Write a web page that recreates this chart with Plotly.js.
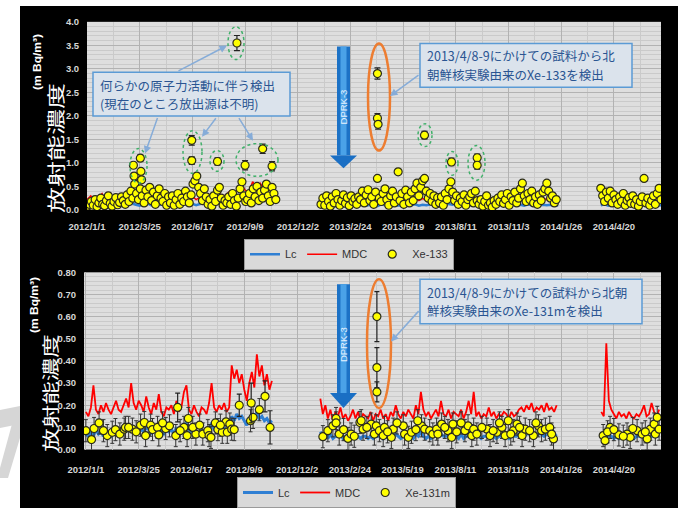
<!DOCTYPE html>
<html><head><meta charset="utf-8">
<script src="https://cdn.plot.ly/plotly-3.0.1.min.js"></script>
<style>
html,body{margin:0;padding:0;background:#fff;width:678px;height:508px;overflow:hidden}
#wm{position:absolute;left:0;top:0}
#chart{position:absolute;left:20px;top:6px;width:658px;height:502px}
.ytitle{position:absolute;font-family:'Noto Sans CJK JP',sans-serif;color:#fff;white-space:nowrap;line-height:1;
 transform-origin:center center;z-index:5}
.yunit{position:absolute;font-family:'Liberation Sans',Arial,sans-serif;font-weight:bold;color:#fff;white-space:nowrap;line-height:1;
 transform-origin:center center;z-index:5;font-size:12px}
</style></head><body>
<svg id="wm" width="20" height="508"><polygon points="0,410 20,406 20,424 0,428" fill="#d6d6d6"/><polygon points="12,424 20,424 20,438 8,478 0,478 0,468" fill="#d6d6d6"/></svg>
<div id="chart"></div>
<div class="ytitle" id="yt1" style="left:56px;top:148px;font-size:26px;transform:translate(-50%,-50%) rotate(-90deg) scaleY(0.68)">放射能濃度</div>
<div class="ytitle" id="yt2" style="left:50px;top:393px;font-size:23.5px;transform:translate(-50%,-50%) rotate(-90deg) scaleY(0.72)">放射能濃度</div>
<div class="yunit" id="yu1" style="left:37px;top:62px;transform:translate(-50%,-50%) rotate(-90deg) scaleY(0.9)">(m Bq/m³)</div>
<div class="yunit" id="yu2" style="left:34px;top:305px;transform:translate(-50%,-50%) rotate(-90deg) scaleY(0.9)">(m Bq/m³)</div>
<script>
// ---------- tick labels ----------
const tickLabels = ['2012/1/1','2012/3/25','2012/6/17','2012/9/9','2012/12/2','2013/2/24','2013/5/19','2013/8/11','2013/11/3','2014/1/26','2014/4/20'];

// ---------- TOP PANEL (Xe-133), day offsets from 2012-01-01 ----------
// sampled every 3 days
const xe133_p1_start = 1, xe133_p2_start = 373, xe133_p3_start = 819, xe133_step = 3;
const xe133_p1 = [0.08,0.12,0.18,0.10,0.22,0.07,0.15,0.25,0.12,0.09,0.20,0.30,0.14,0.08,0.18,0.26,0.11,0.16,0.28,
 0.20,0.12,0.32,0.18,0.40,0.25,0.55,0.35,0.22,0.45,0.30,0.15,0.42,0.28,0.48,0.20,0.38,0.12,0.30,0.45,0.25,0.18,0.35,0.10,0.28,
 0.15,0.30,0.10,0.22,0.35,0.12,0.25,0.18,0.40,0.28,0.15,0.32,0.55,0.62,0.72,0.48,0.35,0.20,0.45,0.28,
 0.12,0.22,0.08,0.30,0.18,0.42,0.48,0.25,0.10,0.20,0.15,0.28,0.12,0.35,0.20,0.08,0.25,0.45,0.60,0.30,
 0.18,0.22,0.35,0.15,0.45,0.28,0.50,0.20,0.38,0.25,0.42,0.55,0.30,0.18,0.48,0.35,0.22];
const xe133_p2 = [0.12,0.25,0.10,0.30,0.18,0.08,0.28,0.15,0.35,0.22,0.10,0.20,0.32,0.14,0.26,0.09,0.30,0.18,0.24,0.12,0.28,
 0.22,0.40,0.15,0.32,0.43,0.20,0.28,0.12,0.38,0.67,0.25,0.18,0.35,0.45,0.22,0.10,0.30,0.40,0.15,0.28,0.81,
 0.20,0.35,0.12,0.42,0.28,0.15,0.38,0.20,0.45,0.57,0.30,0.48,0.62,0.67,0.40,0.25,0.35,0.18,0.30,0.12,0.26,
 0.15,0.28,0.10,0.35,0.22,0.45,0.60,0.38,0.20,0.30,0.12,0.25,0.18,0.32,0.10,0.22,0.28,0.35,0.15,0.40,0.20,
 0.12,0.22,0.08,0.18,0.30,0.10,0.15,0.06,0.20,0.12,0.25,0.18,0.32,0.14,0.22,0.35,0.10,0.28,0.20,0.38,0.15,
 0.25,0.45,0.57,0.30,0.18,0.35,0.22,0.40,0.15,0.28,0.12,0.32,0.20,0.38,0.45,0.57,0.40,0.25,0.30,0.15,0.22];
const xe133_p3 = [0.46,0.30,0.18,0.38,0.25,0.40,0.15,0.32,0.22,0.12,0.28,0.18,0.35,0.10,0.20,0.26,0.14,0.30,0.12,0.22,0.08,0.18,0.28,0.67,0.15,0.25,0.10,0.20,0.30,0.12,0.35,0.46,0.22];
const xe133_out_days = [74,75,85,86,87,167,167,208,239,252,280,295,463,463,464,538,581,622,622];
const xe133_out_vals = [0.95,0.72,1.10,0.82,0.64,1.48,1.05,1.03,3.55,0.95,1.30,0.93,2.90,1.95,1.82,1.59,1.02,1.11,0.95];
const xe133_out_err  = [0.06,0.06,0.07,0.06,0.05,0.10,0.08,0.08,0.16,0.10,0.10,0.10,0.12,0.10,0.10,0.08,0.08,0.08,0.08];
// MDC / Lc for Xe-133, every 6 days
const line133_step = 6, line133_p1_start = 0, line133_p2_start = 373, line133_p3_start = 819;
const mdc133_p1 = [0.22,0.30,0.18,0.25,0.35,0.20,0.28,0.24,0.32,0.20, 0.26,0.22,0.30,0.25,0.20,0.28,0.33,0.22,0.27,0.24,
 0.25,0.30,0.22,0.28,0.20,0.26,0.35,0.24,0.29,0.22, 0.28,0.32,0.25,0.35,0.30,0.38,0.28,0.33,0.40,0.30,
 0.45,0.55,0.42,0.38,0.60,0.50,0.57,0.45,0.52,0.40,0.48];
const lc133_p1 = [0.10,0.14,0.08,0.12,0.16,0.09,0.13,0.11,0.15,0.09, 0.12,0.10,0.14,0.11,0.09,0.13,0.15,0.10,0.12,0.11,
 0.11,0.14,0.10,0.13,0.09,0.12,0.16,0.11,0.13,0.10, 0.13,0.15,0.12,0.16,0.14,0.17,0.13,0.15,0.18,0.14,
 0.20,0.25,0.19,0.17,0.27,0.22,0.26,0.20,0.24,0.18,0.22];
const mdc133_p2 = [0.25,0.20,0.28,0.22,0.18,0.24,0.30,0.21,0.26,0.19, 0.23,0.27,0.20,0.25,0.22,0.18,0.26,0.21,0.24,0.28,
 0.20,0.23,0.19,0.25,0.22,0.27,0.20,0.24,0.21,0.26, 0.29,0.22,0.25,0.32,0.27,0.24,0.30,0.26,0.23,0.28,
 0.21,0.25,0.19,0.24,0.22,0.27,0.20,0.23,0.26,0.21, 0.25,0.28,0.22,0.24,0.20,0.26,0.23,0.27,0.21,0.25,
 0.22,0.24,0.20,0.23];
const lc133_p2 = [0.11,0.09,0.13,0.10,0.08,0.11,0.14,0.10,0.12,0.09, 0.10,0.12,0.09,0.11,0.10,0.08,0.12,0.10,0.11,0.13,
 0.09,0.10,0.09,0.11,0.10,0.12,0.09,0.11,0.10,0.12, 0.13,0.10,0.11,0.14,0.12,0.11,0.13,0.12,0.10,0.12,
 0.10,0.11,0.09,0.11,0.10,0.12,0.09,0.10,0.12,0.10, 0.11,0.13,0.10,0.11,0.09,0.12,0.10,0.12,0.10,0.11,
 0.10,0.11,0.09,0.10];
const mdc133_p3 = [0.22,0.26,0.20,0.24,0.19,0.23,0.21,0.25,0.18,0.22,0.20,0.24,0.19,0.23,0.21,0.20,0.22];
const lc133_p3  = [0.10,0.12,0.09,0.11,0.09,0.10,0.10,0.11,0.08,0.10,0.09,0.11,0.09,0.10,0.10,0.09,0.10];

// ---------- BOTTOM PANEL (Xe-131m) ----------
const line131_step = 4, line131_p1_start = 0, line131_p2_start = 373, line131_p3_start = 820;
const mdc131_p1 = [0.17,0.15,0.19,0.29,0.18,0.16,0.20,0.17,0.21,0.18, 0.16,0.19,0.22,0.18,0.17,0.20,0.23,0.19,0.30,0.21,
 0.18,0.22,0.20,0.17,0.24,0.19,0.16,0.21,0.18,0.25, 0.17,0.15,0.19,0.18,0.20,0.16,0.22,0.17,0.19,0.26,
 0.29,0.18,0.16,0.20,0.17,0.15,0.19,0.18,0.16,0.21, 0.30,0.19,0.17,0.20,0.18,0.21,0.17,0.19,0.38,0.32,
 0.36,0.30,0.34,0.27,0.22,0.30,0.35,0.28,0.43,0.33, 0.38,0.29,0.34,0.27,0.31];
const lc131_p1 = [0.07,0.06,0.08,0.06,0.09,0.07,0.08,0.06,0.09,0.07, 0.06,0.08,0.09,0.07,0.08,0.09,0.10,0.08,0.11,0.09,
 0.08,0.10,0.09,0.08,0.10,0.09,0.07,0.09,0.08,0.10, 0.08,0.07,0.09,0.08,0.09,0.07,0.10,0.08,0.09,0.11,
 0.12,0.09,0.08,0.09,0.08,0.07,0.09,0.08,0.07,0.09, 0.12,0.09,0.08,0.09,0.08,0.10,0.08,0.09,0.15,0.13,
 0.16,0.14,0.15,0.13,0.11,0.14,0.16,0.13,0.17,0.14, 0.15,0.13,0.14,0.12,0.13];
const mdc131_p2 = [0.23,0.16,0.20,0.14,0.18,0.13,0.17,0.15,0.19,0.14, 0.16,0.13,0.15,0.18,0.14,0.17,0.13,0.16,0.15,0.14,
 0.17,0.13,0.16,0.15,0.18,0.14,0.16,0.13,0.17,0.15, 0.20,0.16,0.14,0.17,0.15,0.18,0.16,0.14,0.20,0.16,
 0.26,0.18,0.15,0.17,0.14,0.16,0.18,0.15,0.22,0.16, 0.15,0.18,0.14,0.17,0.16,0.15,0.18,0.14,0.17,0.22,
 0.16,0.26,0.15,0.17,0.14,0.16,0.15,0.19,0.15,0.17, 0.14,0.16,0.15,0.17,0.16,0.14,0.17,0.15,0.16,0.18,
 0.19,0.17,0.20,0.18,0.21,0.17,0.19,0.18,0.20,0.17, 0.21,0.18,0.19,0.17,0.20];
const lc131_p2 = [0.08,0.06,0.07,0.05,0.07,0.05,0.06,0.06,0.07,0.05, 0.06,0.05,0.06,0.07,0.05,0.06,0.05,0.06,0.06,0.05,
 0.06,0.05,0.06,0.06,0.07,0.05,0.06,0.05,0.06,0.06, 0.07,0.06,0.05,0.06,0.06,0.07,0.06,0.05,0.07,0.06,
 0.08,0.06,0.05,0.06,0.05,0.06,0.07,0.06,0.07,0.06, 0.06,0.07,0.05,0.06,0.06,0.05,0.07,0.05,0.06,0.08,
 0.06,0.08,0.06,0.06,0.05,0.06,0.06,0.07,0.06,0.06, 0.05,0.06,0.06,0.07,0.06,0.05,0.06,0.06,0.06,0.07,
 0.07,0.06,0.07,0.07,0.08,0.06,0.07,0.07,0.07,0.06, 0.07,0.07,0.07,0.06,0.07];
const mdc131_p3 = [0.17,0.15,0.48,0.22,0.18,0.16,0.14,0.17,0.15,0.16,0.14,0.17,0.15,0.14,0.16,0.15,0.17,0.20,0.15,0.16,0.21,0.17,0.15,0.18];
const lc131_p3  = [0.06,0.05,0.07,0.06,0.06,0.05,0.06,0.05,0.06,0.06,0.05,0.06,0.06,0.05,0.06,0.06,0.07,0.06,0.06,0.05,0.06,0.07,0.06,0.06];

const xe131_days = [0,9,13,21,34,42,47,54,61,63,74,87,93,95,103,106,114,116,127,133,143,156,161,163,175,186,194,196,199,206,210,217,223,225,229,232,262,266,276,
 28,68,80,122,150,170,181,214,236,
 377,385,393,398,398,403,417,422,436,438,441,454,459,462,467,473,475,486,489,505,507,513,518,534,539,547,552,558,566,576,582,584,603,608,614,617,638,643,654,662,667,672,680,686,694,699,712,720,725,731,744,
 410,427,447,480,495,525,528,560,571,590,597,622,630,648,658,676,690,706,716,738,741,
 823,826,834,848,861,866,877,885,893,898,904,906,909,912,830,840,855,870,890];
const xe131_vals = [0.085,0.045,0.095,0.12,0.063,0.078,0.09,0.07,0.092,0.10,0.092,0.11,0.122,0.063,0.11,0.09,0.10,0.066,0.095,0.107,0.063,0.10,0.063,0.14,0.07,0.07,0.085,0.063,0.055,0.12,0.09,0.078,0.125,0.078,0.115,0.092,0.13,0.145,0.18,
 0.085,0.10,0.08,0.12,0.085,0.10,0.11,0.11,0.09,
 0.058,0.085,0.107,0.14,0.12,0.07,0.05,0.07,0.122,0.13,0.092,0.115,0.07,0.107,0.085,0.063,0.10,0.055,0.092,0.107,0.07,0.055,0.078,0.107,0.092,0.085,0.07,0.092,0.115,0.085,0.055,0.115,0.085,0.107,0.063,0.092,0.092,0.063,0.078,0.10,0.063,0.13,0.085,0.115,0.063,0.092,0.063,0.107,0.085,0.092,0.048,
 0.09,0.06,0.10,0.08,0.12,0.09,0.13,0.07,0.10,0.08,0.12,0.07,0.10,0.085,0.12,0.07,0.10,0.085,0.12,0.10,0.07,
 0.063,0.04,0.10,0.066,0.07,0.055,0.085,0.07,0.048,0.092,0.115,0.07,0.145,0.092,0.08,0.09,0.06,0.095,0.08];
const xe131_out_days = [146,244,263,285,293,463,463,463];
const xe131_out_vals = [0.19,0.20,0.21,0.24,0.10,0.60,0.37,0.26];
const xe131_out_err  = [0.065,0.05,0.09,0.07,0.075,0.113,0.09,0.045];

// ---------- helpers ----------
const DAY = 86400000, T0 = Date.UTC(2012,0,1);
const dstr = d => new Date(T0 + d*DAY).toISOString().slice(0,10);
const lab2date = s => { const p = s.split('/'); return p[0]+'-'+p[1].padStart(2,'0')+'-'+p[2].padStart(2,'0'); };
function segs(list, step){ const x=[], y=[];
  list.forEach((s,i)=>{ if(i>0){ x.push(dstr(s[0]-1)); y.push(null);} s[1].forEach((v,j)=>{ x.push(dstr(s[0]+j*step)); y.push(v); }); });
  return {x,y}; }
const tickVals = tickLabels.map(lab2date);

// page pixel -> paper
const W=658,H=502,OX=20,OY=6;
const px = X => (X-OX)/W, py = Y => (H-(Y-OY))/H;

const cloud133 = segs([[xe133_p1_start,xe133_p1],[xe133_p2_start,xe133_p2],[xe133_p3_start,xe133_p3]], xe133_step);
const m133 = segs([[line133_p1_start,mdc133_p1],[line133_p2_start,mdc133_p2],[line133_p3_start,mdc133_p3]], line133_step);
const l133 = segs([[line133_p1_start,lc133_p1],[line133_p2_start,lc133_p2],[line133_p3_start,lc133_p3]], line133_step);
const m131 = segs([[line131_p1_start,mdc131_p1],[line131_p2_start,mdc131_p2],[line131_p3_start,mdc131_p3]], line131_step);
const l131 = segs([[line131_p1_start,lc131_p1],[line131_p2_start,lc131_p2],[line131_p3_start,lc131_p3]], line131_step);

const MK = {color:'#ffff00', size:8, line:{color:'#2a2a1e', width:1.2}};
const BLUE='#2f7fd3', RED='#ff0000';
const traces = [
 {x:l133.x, y:l133.y, type:'scatter', mode:'lines', name:'Lc', line:{color:BLUE,width:2.5}, xaxis:'x', yaxis:'y', legend:'legend'},
 {x:m133.x, y:m133.y, type:'scatter', mode:'lines', name:'MDC', line:{color:RED,width:1.5}, xaxis:'x', yaxis:'y', legend:'legend'},
 {x:cloud133.x, y:cloud133.y, type:'scatter', mode:'markers', name:'Xe-133', marker:MK,
  error_y:{type:'constant', value:0.04, color:'#222', thickness:1, width:2}, xaxis:'x', yaxis:'y', legend:'legend'},
 {x:xe133_out_days.map(dstr), y:xe133_out_vals, type:'scatter', mode:'markers', name:'Xe-133', showlegend:false, marker:MK,
  error_y:{type:'data', array:xe133_out_err, color:'#222', thickness:1.2, width:3}, xaxis:'x', yaxis:'y'},
 {x:l131.x, y:l131.y, type:'scatter', mode:'lines', name:'Lc', line:{color:BLUE,width:3}, xaxis:'x2', yaxis:'y2', legend:'legend2'},
 {x:m131.x, y:m131.y, type:'scatter', mode:'lines', name:'MDC', line:{color:RED,width:1.8}, xaxis:'x2', yaxis:'y2', legend:'legend2'},
 {x:xe131_days.map(dstr), y:xe131_vals, type:'scatter', mode:'markers', name:'Xe-131m', marker:MK,
  error_y:{type:'constant', value:0.05, color:'#333', thickness:1, width:2}, xaxis:'x2', yaxis:'y2', legend:'legend2'},
 {x:xe131_out_days.map(dstr), y:xe131_out_vals, type:'scatter', mode:'markers', name:'Xe-131m', showlegend:false, marker:MK,
  error_y:{type:'data', array:xe131_out_err, color:'#222', thickness:1.2, width:2.5}, xaxis:'x2', yaxis:'y2'}
];

const tickFont = {family:'Liberation Sans, Arial', size:9.5, color:'#d6d6d6', weight:'bold'};
const GRID='#b2b2b2', MGRID='#cacaca';
function xax(dom, range, anchor, tl){ return {type:'date', domain:dom, range:range, anchor:anchor, tickmode:'array', tickvals:tickVals, ticktext:tickLabels,
  tickfont:tickFont, showgrid:true, gridcolor:GRID, gridwidth:1, zeroline:false, showline:false, ticks:'outside', ticklen:tl, tickcolor:'rgba(0,0,0,0)',
  minor:{dtick:42*DAY, tick0:'2012-01-01', showgrid:true, gridcolor:MGRID, ticks:''}, automargin:false, fixedrange:true}; }
function yax(dom, range, dt, mdt, fmt, anchor){ return {domain:dom, range:range, anchor:anchor, dtick:dt, tick0:0, tickformat:fmt, tickfont:tickFont,
  showgrid:true, gridcolor:GRID, zeroline:false, showline:false, ticks:'outside', ticklen:5, tickcolor:'rgba(0,0,0,0)',
  minor:{dtick:mdt, showgrid:true, gridcolor:MGRID, ticks:''}, automargin:false, fixedrange:true}; }

const shapes = [];
const annotations = [];
function ell(b, color, dash, width){ shapes.push({type:'circle', xref:'paper', yref:'paper', x0:px(b[0]), x1:px(b[2]), y0:py(b[3]), y1:py(b[1]), line:{color:color, dash:dash, width:width}, layer:'above'}); }
function box(b){ shapes.push({type:'rect', xref:'paper', yref:'paper', x0:px(b[0]), x1:px(b[2]), y0:py(b[3]), y1:py(b[1]), fillcolor:'#dbe3ec', line:{color:'#5b9bd5', width:1.5}, layer:'above'}); }
function txt(X,Y,t){ annotations.push({xref:'paper', yref:'paper', x:px(X), y:py(Y), text:t, showarrow:false, xanchor:'left', yanchor:'middle', align:'left',
  borderpad:0, font:{family:'Noto Sans CJK JP', size:12.5, color:'#2a5592'}}); }
function arr(tx,ty,hx,hy){ annotations.push({xref:'paper', yref:'paper', x:px(hx), y:py(hy), ax:tx-hx, ay:ty-hy, text:'', showarrow:true, arrowhead:2, arrowsize:1, arrowwidth:1.5, arrowcolor:'#86acd8'}); }
function dprk(top, shaftBot, headBot, textY){
  shapes.push({type:'rect', xref:'paper', yref:'paper', x0:px(337), x1:px(350), y0:py(shaftBot), y1:py(top), fillcolor:'#1c72c6', line:{width:0}, layer:'above'});
  shapes.push({type:'rect', xref:'paper', yref:'paper', x0:px(340.5), x1:px(346.5), y0:py(shaftBot), y1:py(top), fillcolor:'#4aa2e8', line:{width:0}, layer:'above'});
  shapes.push({type:'path', xref:'paper', yref:'paper', path:`M ${px(330)},${py(shaftBot)} L ${px(357)},${py(shaftBot)} L ${px(343.5)},${py(headBot)} Z`, fillcolor:'#1a6fc4', line:{width:0}, layer:'above'});
  annotations.push({xref:'paper', yref:'paper', x:px(343.5), y:py(textY), text:'DPRK-3', showarrow:false, textangle:-90, xanchor:'center', yanchor:'middle',
    font:{family:'Liberation Sans, Arial', size:9.5, color:'#e6f2ff'}});
}

// decorations
[[228,27,244,60],[130,150,147,185],[183,132,202,175],[210,152,224,173],[236,145,278,178],[418,125,432,148],[446,153,458,177],[468,147,485,182]]
 .forEach(b=>ell(b,'#41b06a','dot',1.5));
ell([368,44,390,152],'#ed7d31','solid',2.5);
ell([367,282,391,412],'#ed7d31','solid',2.5);
box([93,73,290,117]); box([420,44,632,88]); box([420,282,642,327]);
txt(99,86,'何らかの原子力活動に伴う検出'); txt(99,104.5,'(現在のところ放出源は不明)');
txt(426,56.5,'2013/4/8-9にかけての試料から北'); txt(426,75,'朝鮮核実験由来のXe-133を検出');
txt(426,295,'2013/4/8-9にかけての試料から北朝'); txt(426,313.5,'鮮核実験由来のXe-131mを検出');
arr(177,72,227,46); arr(158,118,145,155); arr(217,118,202,138); arr(238,118,253,142);
arr(420,75,390,97); arr(420,313,391,345);
dprk(47,157,170,108); dprk(287,397,412,348);

const legStyle = {orientation:'h', bgcolor:'#d9d9d9', bordercolor:'#9a9a9a', borderwidth:1, font:{family:'Liberation Sans, Arial', size:11, color:'#333'},
  xanchor:'left', yanchor:'top', itemwidth:30, tracegroupgap:0};

const layout = {
  width:658, height:502, paper_bgcolor:'#000000', plot_bgcolor:'#dedede',
  margin:{l:0,r:0,t:0,b:0,pad:0}, showlegend:true,
  xaxis: xax([px(87),px(661)], ['2012-01-01','2014-07-04'], 'y', 8),
  yaxis: yax([py(212),py(22)], [0,4], 0.5, 0.1, '.1f', 'x'),
  xaxis2: xax([px(84),px(661)], ['2011-12-29','2014-07-04'], 'y2', 11),
  yaxis2: yax([py(454),py(275)], [0,0.8], 0.1, 0.02, '.2f', 'x2'),
  legend: Object.assign({x:px(244), y:py(241)}, legStyle),
  legend2: Object.assign({x:px(237), y:py(482)}, legStyle),
  shapes: shapes, annotations: annotations
};
Plotly.newPlot('chart', traces, layout, {staticPlot:true, displayModeBar:false});
</script></body></html>
